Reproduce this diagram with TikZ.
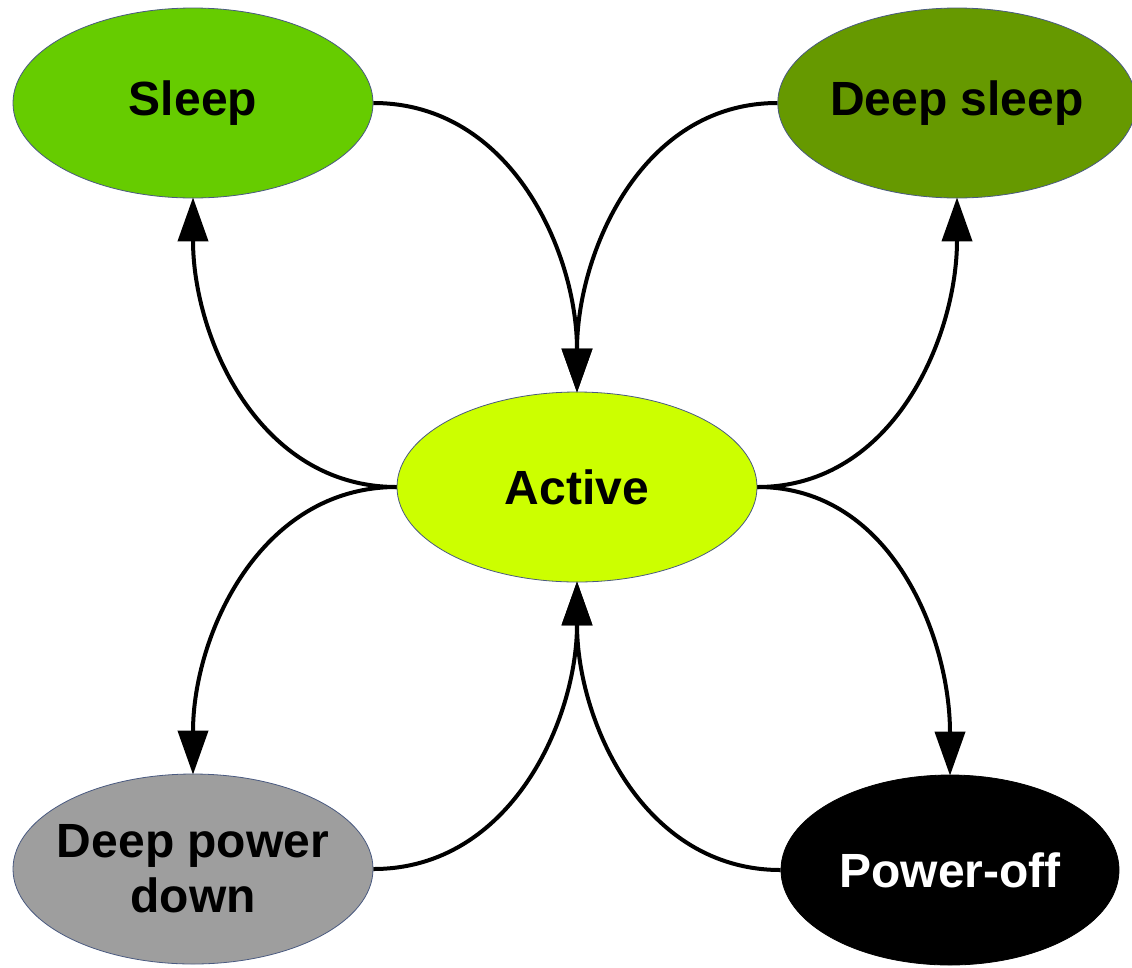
\documentclass[tikz,border=0pt]{standalone}
\usepackage{fontspec}
\setmainfont{Liberation Sans}
\usetikzlibrary{arrows.meta,shapes.geometric}
\definecolor{sleepc}{HTML}{66CC00}
\definecolor{deepc}{HTML}{669900}
\definecolor{activec}{HTML}{CCFF00}
\definecolor{dpdc}{HTML}{9E9E9E}
\definecolor{edgec}{HTML}{4A5A80}
\tikzset{
  state/.style={ellipse, draw=edgec, line width=0.8pt, inner sep=0pt,
    font=\fontsize{48}{55}\selectfont\bfseries, align=center},
  conn/.style={line width=4pt, -{Triangle[length=44pt,width=30pt]}, shorten >=-1pt}
}
\begin{document}
\begin{tikzpicture}[x=1pt,y=-1pt]
\useasboundingbox (0,0) rectangle (1132,967);
\node[state, fill=sleepc, minimum width=360pt, minimum height=190pt] (sleep) at (193,103) {Sleep};
\node[state, fill=deepc, minimum width=352pt, minimum height=190pt] (deep) at (957,103) {Deep sleep};
\node[state, fill=activec, minimum width=360pt, minimum height=190pt] (active) at (577,487) {Active};
\node[state, fill=dpdc, inner xsep=-30pt, minimum width=360pt, minimum height=190pt] (dpd) at (193,869) {Deep power\\down};
\node[state, fill=black, draw=black, text=white, minimum width=338pt, minimum height=190pt] (off) at (950,870) {Power-off};
\draw[conn] (sleep.east) to[out=0,in=90] (active.north);
\draw[conn] (deep.west) to[out=180,in=90] (active.north);
\draw[conn] (active.west) to[out=180,in=-90] (sleep.south);
\draw[conn] (active.east) to[out=0,in=-90] (deep.south);
\draw[conn] (active.west) to[out=180,in=90] (dpd.north);
\draw[conn] (active.east) to[out=0,in=90] (off.north);
\draw[conn] (dpd.east) to[out=0,in=-90] (active.south);
\draw[conn] (off.west) to[out=180,in=-90] (active.south);
\end{tikzpicture}
\end{document}
